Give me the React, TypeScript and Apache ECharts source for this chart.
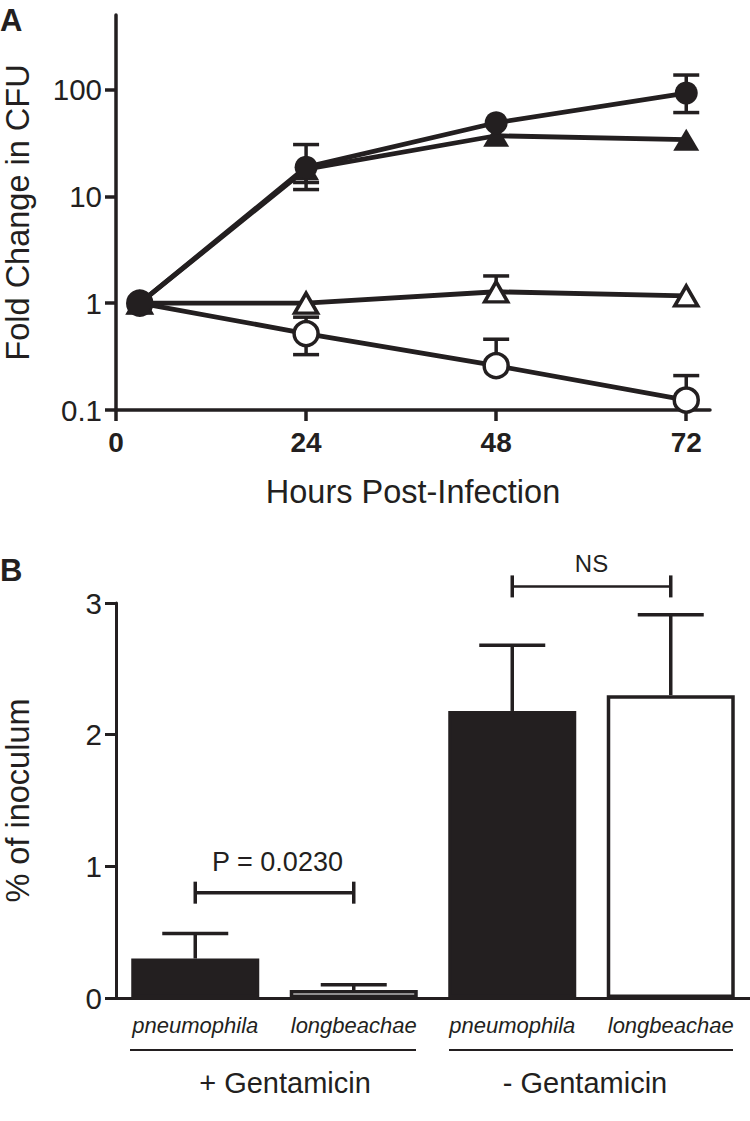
import React, { useEffect, useRef } from "react";
import * as echarts from "echarts";

// ---------- Panel A data ----------
const hours = [3, 24, 48, 72];
const hourTicks = [0, 24, 48, 72];
const foldTicks = [0.1, 1, 10, 100];
const filledCircle = [1, 18.8, 49, 93];
const filledCircleLow = [null, 11.6, null, 61];
const filledCircleHigh = [null, 30.6, null, 137];
const filledTriangle = [1, 18, 37, 34];
const filledTriangleLow = [null, 13.5, null, null];
const filledTriangleHigh = [null, null, null, null];
const openTriangle = [1, 1, 1.28, 1.17];
const openTriangleLow = [null, null, null, null];
const openTriangleHigh = [null, null, 1.8, null];
const openCircle = [1, 0.52, 0.26, 0.124];
const openCircleLow = [null, 0.33, null, null];
const openCircleHigh = [null, 0.74, 0.46, 0.21];

// ---------- Panel B data ----------
const strains = ["pneumophila", "longbeachae", "pneumophila", "longbeachae"];
const inoculum = [0.3, 0.06, 2.18, 2.3];
const inoculumHigh = [0.49, 0.1, 2.68, 2.91];
const barFilled = [true, false, true, false];
const bracketFrom = [0, 2];
const bracketTo = [1, 3];
const bracketLevel = [0.8, 3.126];
const bracketText = ["P = 0.0230", "NS"];
const bracketTextLevel = [1.03, 3.3];
const groupNames = ["+ Gentamicin", "- Gentamicin"];

const INK = "#231f20";
const FONT = "'Liberation Sans', Arial, Helvetica, sans-serif";

function errData(xs: number[], ys: number[], lo: (number | null)[], hi: (number | null)[]) {
  const out: number[][] = [];
  xs.forEach((x, i) => {
    if (lo[i] == null && hi[i] == null) return;
    out.push([x, ys[i], lo[i] == null ? ys[i] : (lo[i] as number), hi[i] == null ? ys[i] : (hi[i] as number)]);
  });
  return out;
}

function errSeries(name: string, data: number[][], z: number) {
  return {
    type: "custom",
    name,
    xAxisIndex: 0,
    yAxisIndex: 0,
    z,
    encode: { x: 0, y: 1 },
    data,
    renderItem: (params: any, api: any) => {
      const x = api.value(0);
      const y = api.value(1);
      const lo = api.value(2);
      const hi = api.value(3);
      const pLo = api.coord([x, lo]);
      const pHi = api.coord([x, hi]);
      const pC = api.coord([x, y]);
      const half = 13;
      const st = { stroke: INK, lineWidth: 3.5 };
      const children: any[] = [
        { type: "line", shape: { x1: pC[0], y1: pLo[1], x2: pC[0], y2: pHi[1] }, style: st },
      ];
      if (hi !== y) children.push({ type: "line", shape: { x1: pHi[0] - half, y1: pHi[1], x2: pHi[0] + half, y2: pHi[1] }, style: st });
      if (lo !== y) children.push({ type: "line", shape: { x1: pLo[0] - half, y1: pLo[1], x2: pLo[0] + half, y2: pLo[1] }, style: st });
      return { type: "group", children };
    },
  };
}

export default function App() {
  const ref = useRef<HTMLDivElement>(null);
  useEffect(() => {
    if (!ref.current) return;
    const chart = echarts.init(ref.current, undefined, { renderer: "svg" });
    const pair = (ys: number[]) => hours.map((h, i) => [h, ys[i]]);
    const lineBase = (name: string, ys: number[], symbol: string, size: any, filled: boolean, z: number) => ({
      type: "line",
      name,
      xAxisIndex: 0,
      yAxisIndex: 0,
      data: pair(ys),
      symbol,
      symbolSize: size,
      showAllSymbol: true,
      z,
      lineStyle: { color: INK, width: 4.8 },
      itemStyle: filled
        ? { color: INK, borderColor: INK, borderWidth: 0 }
        : { color: "#ffffff", borderColor: INK, borderWidth: 3.5 },
    });

    const option: any = {
      animation: false,
      backgroundColor: "#ffffff",
      textStyle: { fontFamily: FONT, color: INK },
      grid: [
        { left: 116, top: 15, width: 594, height: 395, containLabel: false, outerBoundsMode: "none" },
        { left: 116, top: 603, width: 634, height: 395, containLabel: false, outerBoundsMode: "none" },
      ],
      xAxis: [
        {
          type: "value",
          gridIndex: 0,
          min: 0,
          max: 75,
          splitLine: { show: false },
          axisLine: { lineStyle: { color: INK, width: 3.5 } },
          axisTick: { customValues: hourTicks, length: 11, lineStyle: { color: INK, width: 3.5 } },
          axisLabel: {
            customValues: hourTicks,
            fontSize: 28,
            fontWeight: "bold",
            color: INK,
            fontFamily: FONT,
            margin: 18,
          },
          name: "Hours Post-Infection",
          nameLocation: "middle",
          nameGap: 65,
          nameTextStyle: { fontSize: 32.5, color: INK, fontFamily: FONT },
        },
        {
          type: "category",
          gridIndex: 1,
          data: strains,
          axisLine: { lineStyle: { color: INK, width: 3 } },
          axisTick: { alignWithLabel: true, length: 12, lineStyle: { color: INK, width: 3 } },
          axisLabel: { interval: 0, fontSize: 22, fontStyle: "italic", color: INK, fontFamily: FONT, margin: 16 },
        },
      ],
      yAxis: [
        {
          type: "log",
          gridIndex: 0,
          logBase: 10,
          min: 0.1,
          max: 500,
          splitLine: { show: false },
          minorTick: { show: false },
          axisLine: { lineStyle: { color: INK, width: 3.5 } },
          axisTick: { customValues: foldTicks, length: 11, lineStyle: { color: INK, width: 3.5 } },
          axisLabel: {
            customValues: foldTicks,
            fontSize: 29.5,
            color: INK,
            fontFamily: FONT,
            margin: 14,
            formatter: (v: number) => String(Number(v.toPrecision(3))),
          },
          name: "Fold Change in CFU",
          nameLocation: "middle",
          nameGap: 82,
          nameRotate: 90,
          nameTextStyle: { fontSize: 32.5, color: INK, fontFamily: FONT },
        },
        {
          type: "value",
          gridIndex: 1,
          min: 0,
          max: 3,
          interval: 1,
          splitLine: { show: false },
          axisLine: { show: true, lineStyle: { color: INK, width: 3 } },
          axisTick: { show: true, length: 11, lineStyle: { color: INK, width: 3 } },
          axisLabel: { fontSize: 29.5, color: INK, fontFamily: FONT, margin: 14 },
          name: "% of inoculum",
          nameLocation: "middle",
          nameGap: 82,
          nameRotate: 90,
          nameTextStyle: { fontSize: 32.5, color: INK, fontFamily: FONT },
        },
      ],
      series: [
        errSeries("open circle err", errData(hours, openCircle, openCircleLow, openCircleHigh), 2),
        errSeries("open triangle err", errData(hours, openTriangle, openTriangleLow, openTriangleHigh), 2),
        errSeries("filled triangle err", errData(hours, filledTriangle, filledTriangleLow, filledTriangleHigh), 2),
        errSeries("filled circle err", errData(hours, filledCircle, filledCircleLow, filledCircleHigh), 2),
        lineBase("open circle", openCircle, "circle", 24, false, 3),
        lineBase("open triangle", openTriangle, "triangle", [23, 20], false, 4),
        lineBase("filled triangle", filledTriangle, "triangle", [26, 22], true, 5),
        lineBase("filled circle", filledCircle, "circle", 23, true, 6),
        {
          type: "bar",
          name: "% of inoculum",
          xAxisIndex: 1,
          yAxisIndex: 1,
          barWidth: 128,
          z: 2,
          data: inoculum.map((v, i) => ({
            value: v,
            itemStyle: {
              color: barFilled[i] ? INK : "#ffffff",
              borderColor: INK,
              borderWidth: 3.5,
            },
          })),
        },
        {
          type: "custom",
          name: "bar error",
          xAxisIndex: 1,
          yAxisIndex: 1,
          z: 3,
          encode: { x: 0, y: 1 },
          data: inoculum.map((v, i) => [i, v, inoculumHigh[i]]),
          renderItem: (params: any, api: any) => {
            const i = api.value(0);
            const base = api.coord([i, api.value(1)]);
            const top = api.coord([i, api.value(2)]);
            const st = { stroke: INK, lineWidth: 3.5 };
            return {
              type: "group",
              children: [
                { type: "line", shape: { x1: base[0], y1: base[1], x2: top[0], y2: top[1] }, style: st },
                { type: "line", shape: { x1: top[0] - 33, y1: top[1], x2: top[0] + 33, y2: top[1] }, style: st },
              ],
            };
          },
        },
        {
          type: "custom",
          name: "significance",
          xAxisIndex: 1,
          yAxisIndex: 1,
          z: 3,
          clip: false,
          encode: { x: 0, y: 2 },
          data: bracketFrom.map((f, i) => [f, bracketTo[i], bracketLevel[i], bracketTextLevel[i]]),
          renderItem: (params: any, api: any) => {
            const idx = params.dataIndex;
            const a = api.coord([api.value(0), api.value(2)]);
            const b = api.coord([api.value(1), api.value(2)]);
            const tY = api.coord([api.value(0), api.value(3)])[1];
            const tX = (a[0] + b[0]) / 2;
            const thin = idx === 1;
            const st = { stroke: INK, lineWidth: thin ? 2.5 : 3.5 };
            const stEnd = { stroke: INK, lineWidth: 3.5 };
            const h = 11;
            return {
              type: "group",
              children: [
                { type: "line", shape: { x1: a[0], y1: a[1], x2: b[0], y2: b[1] }, style: st },
                { type: "line", shape: { x1: a[0], y1: a[1] - h, x2: a[0], y2: a[1] + h }, style: stEnd },
                { type: "line", shape: { x1: b[0], y1: b[1] - h, x2: b[0], y2: b[1] + h }, style: stEnd },
                {
                  type: "text",
                  style: {
                    text: bracketText[idx],
                    x: tX + (thin ? 0 : 3),
                    y: tY,
                    align: "center",
                    verticalAlign: "middle",
                    fontSize: thin ? 24 : 27,
                    fontFamily: FONT,
                    fill: INK,
                  },
                },
              ],
            };
          },
        },
      ],
      graphic: [
        { type: "text", left: 0, top: 5, style: { text: "A", fontSize: 31, fontWeight: "bold", fontFamily: FONT, fill: INK } },
        { type: "text", left: 0, top: 555, style: { text: "B", fontSize: 31, fontWeight: "bold", fontFamily: FONT, fill: INK } },
        { type: "line", shape: { x1: 130, y1: 1050, x2: 416, y2: 1050 }, style: { stroke: INK, lineWidth: 2 } },
        { type: "line", shape: { x1: 449, y1: 1050, x2: 733, y2: 1050 }, style: { stroke: INK, lineWidth: 2 } },
        {
          type: "text",
          x: 285,
          y: 1083,
          style: { text: groupNames[0], fontSize: 29, fontFamily: FONT, fill: INK, align: "center", verticalAlign: "middle" },
        },
        {
          type: "text",
          x: 585,
          y: 1083,
          style: { text: groupNames[1], fontSize: 29, fontFamily: FONT, fill: INK, align: "center", verticalAlign: "middle" },
        },
      ],
    };
    chart.setOption(option);
    return () => chart.dispose();
  }, []);
  return (
    <div
      ref={ref}
      style={{ position: "absolute", left: 0, top: 0, width: 750, height: 1121, background: "#fff" }}
    />
  );
}
